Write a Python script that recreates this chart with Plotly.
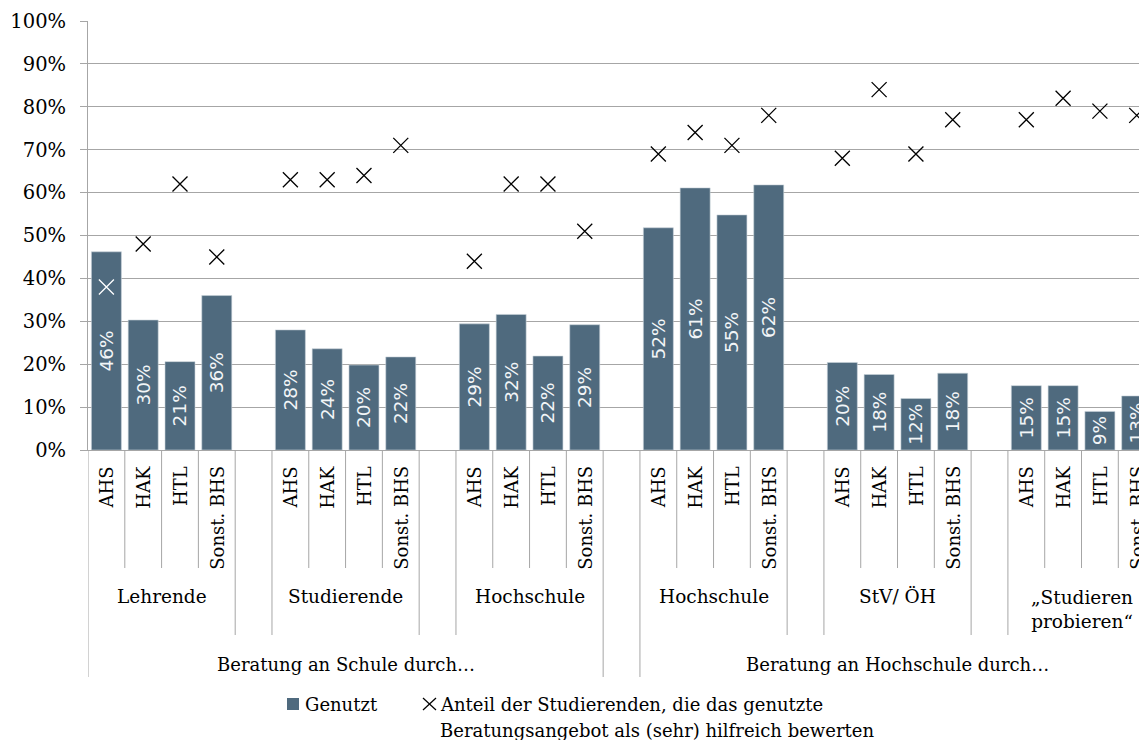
import plotly.graph_objects as go

# Daten
schularten = ["AHS", "HAK", "HTL", "Sonst. BHS"]
gruppen = ["Lehrende", "Studierende", "Hochschule", "Hochschule", "StV/ ÖH",
           "„Studieren<br>probieren“"]
obergruppen = ["Beratung an Schule durch…", "Beratung an Hochschule durch…"]

genutzt = [46.2, 30.3, 20.6, 36.0,
           28.0, 23.6, 19.8, 21.7,
           29.4, 31.6, 21.9, 29.2,
           51.8, 61.1, 54.8, 61.8,
           20.4, 17.6, 12.0, 17.9,
           15.0, 15.0, 9.0, 12.6]
hilfreich = [38, 48, 62, 45,
             63, 63, 64, 71,
             44, 62, 62, 51,
             69, 74, 71, 78,
             68, 84, 69, 77,
             77, 82, 79, 78]

legende_bar = "Genutzt"
legende_kreuz = ["Anteil der Studierenden, die das genutzte",
                 "Beratungsangebot als (sehr) hilfreich bewerten"]

SERIF = "DejaVu Serif"
GRAU = "#a6a6a6"
BALKEN = "#4f6a7e"

# die Seite hat 8px Rand (body margin), deshalb etwas kleiner
OFF = 8
W, H = 1147 - OFF, 740 - OFF
L, T = 88 - OFF, 21 - OFF
B = H - (450 - OFF)
plot_w = W - L
plot_h = H - T - B


def px_x(px):
    # Bildschirm-Pixel -> paper-Koordinate (x)
    return (px - OFF - L) / plot_w


def px_y(py):
    # Bildschirm-Pixel -> paper-Koordinate (y)
    return (H - B - (py - OFF)) / plot_h


# Position jeder Kategorie: 4 Schularten pro Gruppe, dazwischen ein leerer Platz
n_art = len(schularten)
pos = [g * (n_art + 1) + j for g in range(len(gruppen)) for j in range(n_art)]
n_slots = len(gruppen) * (n_art + 1) - 1
gaps = [g * (n_art + 1) + n_art for g in range(len(gruppen) - 1)]
mitte_gap = gaps[len(gaps) // 2]

fig = go.Figure()
fig.add_trace(go.Bar(
    x=pos, y=genutzt, name=legende_bar,
    marker=dict(color=BALKEN, line=dict(color="#c9d3da", width=0.6)),
    text=[f"{round(v)}%" for v in genutzt],
    textposition="inside", insidetextanchor="middle", textangle=-90,
    textfont=dict(family="DejaVu Sans", size=18.5, color="#f2f5f7"),
    hoverinfo="skip",
))

# Kreuze: weiss, wenn sie im Balken liegen
schwarz = [h if h >= g else None for h, g in zip(hilfreich, genutzt)]
weiss = [h if h < g else None for h, g in zip(hilfreich, genutzt)]
for werte, farbe in [(schwarz, "black"), (weiss, "white")]:
    fig.add_trace(go.Scatter(
        x=pos, y=werte, mode="markers",
        marker=dict(symbol="x-thin", size=15, line=dict(color=farbe, width=1.3)),
    ))

# Trennlinien der Kategorienachse
tief_art = px_y(568)
tief_gruppe = px_y(635)
tief_ober = px_y(677)
ober_grenzen = {0, mitte_gap, mitte_gap + 1, n_slots}
gruppen_grenzen = set(gaps) | {g + 1 for g in gaps}
for b in range(n_slots + 1):
    if b in ober_grenzen:
        y1 = tief_ober
    elif b in gruppen_grenzen:
        y1 = tief_gruppe
    else:
        y1 = tief_art
    fig.add_shape(type="line", xref="x", yref="paper", x0=b - 0.5, x1=b - 0.5,
                  y0=0, y1=y1, line=dict(color=GRAU, width=1))

ann = []
for i, p in enumerate(pos):
    ann.append(dict(x=p, y=px_y(464), xref="x", yref="paper", text=schularten[i % n_art],
                    textangle=-90, yanchor="top", xanchor="center", showarrow=False,
                    font=dict(family=SERIF, size=18, color="black")))
for g, name in enumerate(gruppen):
    zweizeilig = "<br>" in name
    ann.append(dict(x=g * (n_art + 1) + (n_art - 1) / 2, y=px_y(609 if zweizeilig else 596),
                    xref="x", yref="paper", text=name, showarrow=False,
                    yanchor="middle", font=dict(family=SERIF, size=18.5, color="black")))
for k, name in enumerate(obergruppen):
    start = 0 if k == 0 else mitte_gap + 1
    ende = mitte_gap - 1 if k == 0 else n_slots - 1
    ann.append(dict(x=(start + ende) / 2, y=px_y(664), xref="x", yref="paper", text=name,
                    showarrow=False, yanchor="middle",
                    font=dict(family=SERIF, size=18, color="black")))

# Legende (von Hand, damit sie unter der Achse sitzt)
leg_font = dict(family=SERIF, size=18, color="black")
fig.add_shape(type="rect", xref="paper", yref="paper",
              x0=px_x(287), x1=px_x(299), y0=px_y(710), y1=px_y(698),
              fillcolor=BALKEN, line=dict(width=0))
fig.add_shape(type="line", xref="paper", yref="paper",
              x0=px_x(423), x1=px_x(436), y0=px_y(698), y1=px_y(710),
              line=dict(color="black", width=1.2))
fig.add_shape(type="line", xref="paper", yref="paper",
              x0=px_x(423), x1=px_x(436), y0=px_y(710), y1=px_y(698),
              line=dict(color="black", width=1.2))
ann.append(dict(x=px_x(303), y=px_y(704), xref="paper", yref="paper", text=legende_bar,
                xanchor="left", yanchor="middle", showarrow=False, font=leg_font))
for zeile, py in zip(legende_kreuz, [704, 730]):
    ann.append(dict(x=px_x(438), y=px_y(py), xref="paper", yref="paper", text=zeile,
                    xanchor="left", yanchor="middle", showarrow=False, font=leg_font))

fig.update_layout(
    width=W, height=H,
    margin=dict(l=L, r=0, t=T, b=B),
    plot_bgcolor="white", paper_bgcolor="white",
    bargap=0.185,
    showlegend=False,
    annotations=ann,
    font=dict(family=SERIF, color="black"),
)
fig.update_xaxes(range=[-0.5, n_slots - 0.72], showticklabels=False, ticks="",
                 showgrid=False, zeroline=False, showline=True, linecolor=GRAU, linewidth=1,
                 automargin=False)
fig.update_yaxes(range=[0, 100], dtick=10, ticksuffix="%", showgrid=True, gridcolor=GRAU,
                 gridwidth=1, zeroline=False, showline=True, linecolor=GRAU, linewidth=1,
                 ticks="outside", ticklen=7, tickcolor=GRAU, automargin=False,
                 ticklabelstandoff=10,
                 tickfont=dict(family=SERIF, size=19.5, color="black"))

fig.write_html("out.html")
